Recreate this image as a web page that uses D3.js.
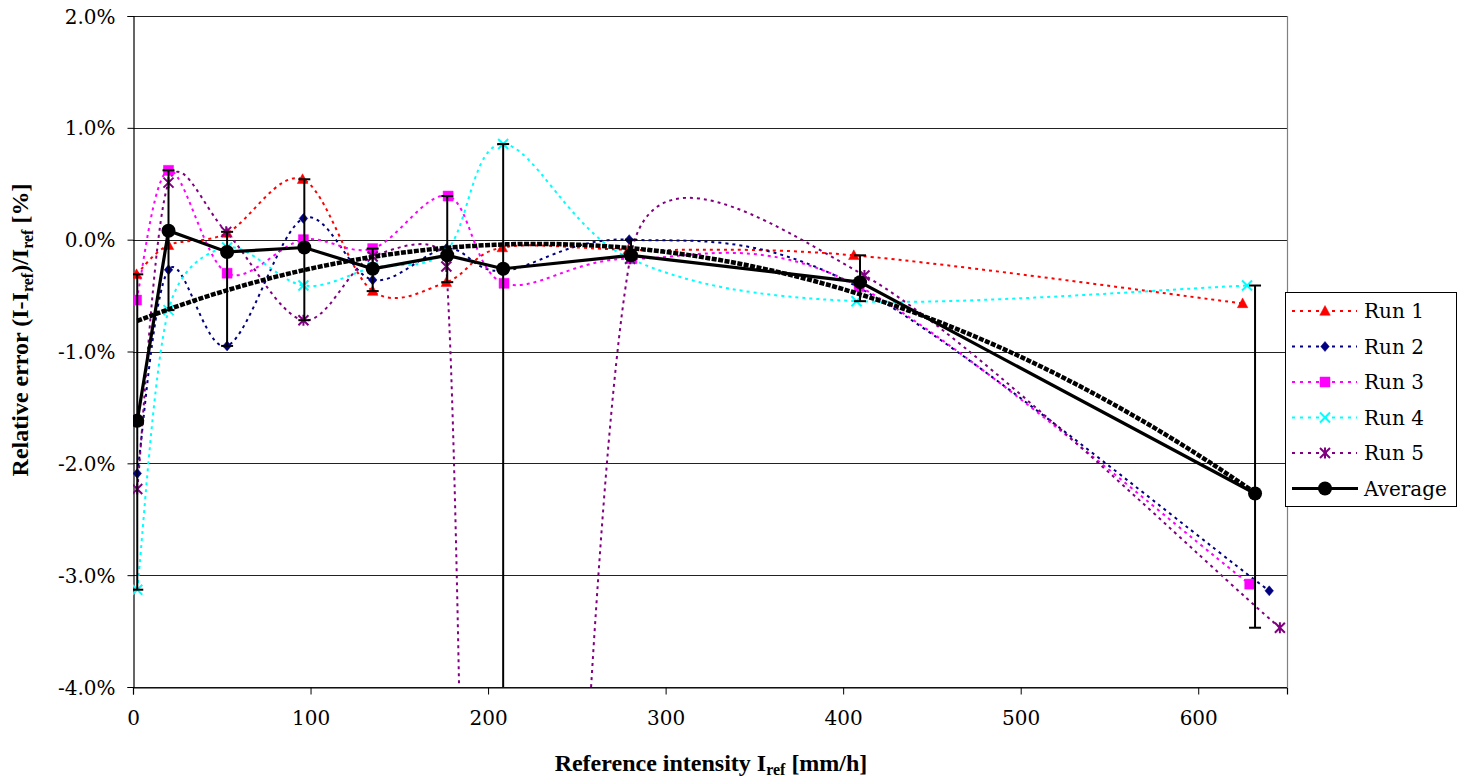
<!DOCTYPE html>
<html>
<head>
<meta charset="utf-8">
<script src="https://cdn.jsdelivr.net/npm/d3@7"></script>
<style>
  html, body { margin: 0; padding: 0; background: #fff; }
  svg { display: block; }
</style>
</head>
<body>
<svg id="chart" width="1470" height="782"></svg>
<script>
// ---------------- data ----------------
const seriesNames = ["Run 1", "Run 2", "Run 3", "Run 4", "Run 5"];
const run1X = [2, 20, 53, 95.5, 135, 176.5, 208, 279, 406, 625];
const run1Y = [-0.31, -0.05, 0.06, 0.54, -0.46, -0.38, -0.07, -0.09, -0.14, -0.57];
const run2X = [2.4, 20, 53, 96, 135, 176.5, 208, 279.5, 409, 640];
const run2Y = [-2.09, -0.27, -0.95, 0.19, -0.36, -0.08, -0.28, 0.0, -0.43, -3.14];
const run3X = [2, 20, 53, 96, 135, 177.5, 209, 281, 409, 629];
const run3Y = [-0.54, 0.62, -0.30, 0.0, -0.08, 0.39, -0.39, -0.17, -0.42, -3.08];
const run4X = [2.4, 20, 53, 96, 135, 176.5, 208.5, 280, 407.5, 627.5];
const run4Y = [-3.13, -0.63, -0.07, -0.41, -0.25, -0.10, 0.855, -0.17, -0.55, -0.41];
const run5X = [2.4, 20, 52.5, 96, 135, 176.5, 208, 280, 412, 646];
const run5Y = [-2.23, 0.51, 0.07, -0.72, -0.15, -0.24, -18.5, -0.17, -0.32, -3.47];
const avgName = "Average";
const avgX = [2.4, 20, 53, 96.5, 135, 177, 208.5, 280.5, 409.5, 632];
const avgY = [-1.62, 0.08, -0.11, -0.07, -0.26, -0.14, -0.26, -0.14, -0.38, -2.27];
const xTicks = [0, 100, 200, 300, 400, 500, 600];
const yTicks = [2, 1, 0, -1, -2, -3, -4];
const yTickLabels = ["2.0%", "1.0%", "0.0%", "-1.0%", "-2.0%", "-3.0%", "-4.0%"];

// ---------------- setup ----------------
const svg = d3.select("#chart");
const L = 133, R = 1287, T = 16, B = 687;
const x = d3.scaleLinear().domain([0, 650]).range([L, R]);
const y = d3.scaleLinear().domain([-4, 2]).range([B, T]);

const runs = [
  { name: seriesNames[0], xs: run1X, ys: run1Y, color: "#FF0000", sym: "tri" },
  { name: seriesNames[1], xs: run2X, ys: run2Y, color: "#000080", sym: "diamond" },
  { name: seriesNames[2], xs: run3X, ys: run3Y, color: "#FF00FF", sym: "square" },
  { name: seriesNames[3], xs: run4X, ys: run4Y, color: "#00FFFF", sym: "x" },
  { name: seriesNames[4], xs: run5X, ys: run5Y, color: "#800080", sym: "star" }
];

// Excel-like smoothed curve (Bezier with capped control arms)
function excelSmooth(context) {
  let pts;
  return {
    areaStart() {}, areaEnd() {},
    lineStart() { pts = []; },
    point(px, py) { pts.push([+px, +py]); },
    lineEnd() {
      const n = pts.length;
      if (!n) return;
      context.moveTo(pts[0][0], pts[0][1]);
      if (n === 1) return;
      const d = (a, b) => Math.hypot(a[0] - b[0], a[1] - b[1]);
      for (let i = 0; i < n - 1; i++) {
        const p0 = pts[Math.max(0, i - 1)], p1 = pts[i], p2 = pts[i + 1], p3 = pts[Math.min(n - 1, i + 2)];
        const d02 = d(p0, p2), d12 = d(p1, p2), d13 = d(p1, p3);
        let f1 = 1 / 6, f2 = 1 / 6;
        if (!(d02 / 6 < d12 / 2 && d13 / 6 < d12 / 2)) {
          if (d02 / 6 >= d12 / 2 && d02 > 0) f1 = d12 / (2 * d02);
          if (d13 / 6 >= d12 / 2 && d13 > 0) f2 = d12 / (2 * d13);
        }
        const c1 = [p1[0] + f1 * (p2[0] - p0[0]), p1[1] + f1 * (p2[1] - p0[1])];
        const c2 = [p2[0] - f2 * (p3[0] - p1[0]), p2[1] - f2 * (p3[1] - p1[1])];
        context.bezierCurveTo(c1[0], c1[1], c2[0], c2[1], p2[0], p2[1]);
      }
    }
  };
}

function symbolPath(type, s) {
  const h = s / 2;
  switch (type) {
    case "tri": return `M0,${-h * 1.1}L${h * 1.05},${h * 0.85}L${-h * 1.05},${h * 0.85}Z`;
    case "diamond": return `M0,${-h}L${h * 0.85},0L0,${h}L${-h * 0.85},0Z`;
    case "square": return `M${-h},${-h}H${h}V${h}H${-h}Z`;
    case "x": return `M${-h},${-h}L${h},${h}M${-h},${h}L${h},${-h}`;
    case "star": return `M${-h},${-h}L${h},${h}M${-h},${h}L${h},${-h}M0,${-h * 1.1}V${h * 1.1}`;
  }
}
function drawSymbol(g, type, color, cx, cy, s) {
  const stroke = (type === "x" || type === "star");
  g.append("path")
    .attr("transform", `translate(${cx},${cy})`)
    .attr("d", symbolPath(type, s))
    .attr("fill", stroke ? "none" : color)
    .attr("stroke", color)
    .attr("stroke-width", stroke ? 2 : 0.5);
}

// clip
svg.append("defs").append("clipPath").attr("id", "plotclip")
  .append("rect").attr("x", L).attr("y", T).attr("width", R - L).attr("height", B - T);

// gridlines
svg.append("g").selectAll("line").data(yTicks).join("line")
  .attr("x1", L).attr("x2", R)
  .attr("y1", d => Math.round(y(d)) + 0.5).attr("y2", d => Math.round(y(d)) + 0.5)
  .attr("stroke", "#222").attr("stroke-width", 1);

// plot border (right side gray)
svg.append("line").attr("x1", R + 0.5).attr("x2", R + 0.5).attr("y1", T).attr("y2", B)
  .attr("stroke", "#808080").attr("stroke-width", 1.2);

// axes
const yAxis = d3.axisLeft(y).tickValues(yTicks).tickSize(6).tickFormat((d, i) => yTickLabels[i]);
const gy = svg.append("g").attr("transform", `translate(${L + 0.5},0)`).call(yAxis);
gy.select(".domain").attr("stroke", "#000").attr("stroke-width", 1.2);
gy.selectAll(".tick line").attr("stroke", "#000");
gy.selectAll(".tick text").attr("x", -18).attr("dy", "0.35em")
  .style("font-family", "'DejaVu Serif', serif").style("font-size", "20px").attr("fill", "#000");

const xAxis = d3.axisBottom(x).tickValues(xTicks).tickSize(7).tickFormat(d3.format("d"));
const gx = svg.append("g").attr("transform", `translate(0,${B + 0.5})`).call(xAxis);
gx.select(".domain").attr("stroke", "#000").attr("stroke-width", 1.2);
gx.selectAll(".tick line").attr("stroke", "#000");
gx.selectAll(".tick text").attr("y", 30).attr("dy", "0.35em")
  .style("font-family", "'DejaVu Serif', serif").style("font-size", "20px").attr("fill", "#000");

// plot content
const plot = svg.append("g").attr("clip-path", "url(#plotclip)");
const smoothLine = d3.line().x(d => x(d[0])).y(d => y(d[1])).curve(excelSmooth);

runs.forEach(r => {
  const pts = r.xs.map((v, i) => [v, r.ys[i]]);
  plot.append("path").attr("d", smoothLine(pts))
    .attr("fill", "none").attr("stroke", r.color).attr("stroke-width", 2)
    .attr("stroke-dasharray", "3,4");
});
runs.forEach(r => {
  const g = plot.append("g");
  r.xs.forEach((v, i) => drawSymbol(g, r.sym, r.color, x(v), y(r.ys[i]), 10));
});

// error bars (min/max over runs)
const errG = plot.append("g");
avgX.forEach((v, i) => {
  const vals = runs.map(r => r.ys[i]);
  const lo = d3.min(vals), hi = d3.max(vals);
  const cx = x(v);
  errG.append("line").attr("x1", cx).attr("x2", cx).attr("y1", y(hi)).attr("y2", y(lo))
    .attr("stroke", "#000").attr("stroke-width", 2);
  [hi, lo].forEach(val => {
    errG.append("line").attr("x1", cx - 6).attr("x2", cx + 6).attr("y1", y(val)).attr("y2", y(val))
      .attr("stroke", "#000").attr("stroke-width", 2);
  });
});

// average line
const straight = d3.line().x(d => x(d[0])).y(d => y(d[1]));
const avgPts = avgX.map((v, i) => [v, avgY[i]]);
plot.append("path").attr("d", straight(avgPts))
  .attr("fill", "none").attr("stroke", "#000").attr("stroke-width", 3.2);

// polynomial (order 2) trendline of the average, least squares
(function () {
  const n = avgX.length;
  let S = [0, 0, 0, 0, 0], Ty = [0, 0, 0];
  for (let i = 0; i < n; i++) {
    const xv = avgX[i], yv = avgY[i];
    for (let k = 0; k <= 4; k++) S[k] += Math.pow(xv, k);
    for (let k = 0; k <= 2; k++) Ty[k] += yv * Math.pow(xv, k);
  }
  const M = [[S[0], S[1], S[2], Ty[0]], [S[1], S[2], S[3], Ty[1]], [S[2], S[3], S[4], Ty[2]]];
  for (let c = 0; c < 3; c++) {
    let p = c;
    for (let r = c + 1; r < 3; r++) if (Math.abs(M[r][c]) > Math.abs(M[p][c])) p = r;
    [M[c], M[p]] = [M[p], M[c]];
    for (let r = 0; r < 3; r++) {
      if (r === c) continue;
      const f = M[r][c] / M[c][c];
      for (let k = c; k < 4; k++) M[r][k] -= f * M[c][k];
    }
  }
  const coef = [M[0][3] / M[0][0], M[1][3] / M[1][1], M[2][3] / M[2][2]];
  const x0 = d3.min(avgX), x1 = d3.max(avgX);
  const samples = d3.range(0, 101).map(k => {
    const xv = x0 + (x1 - x0) * k / 100;
    return [xv, coef[0] + coef[1] * xv + coef[2] * xv * xv];
  });
  plot.append("path").attr("d", straight(samples))
    .attr("fill", "none").attr("stroke", "#000").attr("stroke-width", 4.5)
    .attr("stroke-dasharray", "5,1.5");
})();

plot.append("g").selectAll("circle").data(avgPts).join("circle")
  .attr("cx", d => x(d[0])).attr("cy", d => y(d[1])).attr("r", 7).attr("fill", "#000");

// legend
const lg = svg.append("g");
lg.append("rect").attr("x", 1285.5).attr("y", 292.5).attr("width", 171).attr("height", 214)
  .attr("fill", "#fff").attr("stroke", "#000").attr("stroke-width", 1);
const legY = [311, 346.5, 382, 417.5, 453, 488.5];
runs.forEach((r, i) => {
  lg.append("line").attr("x1", 1292).attr("x2", 1357).attr("y1", legY[i]).attr("y2", legY[i])
    .attr("stroke", r.color).attr("stroke-width", 2).attr("stroke-dasharray", "3,5");
  drawSymbol(lg, r.sym, r.color, 1325, legY[i], 10);
  lg.append("text").attr("x", 1364).attr("y", legY[i]).attr("dy", "0.36em")
    .style("font-family", "'DejaVu Serif', serif").style("font-size", "20px").text(r.name);
});
lg.append("line").attr("x1", 1292).attr("x2", 1358).attr("y1", legY[5]).attr("y2", legY[5])
  .attr("stroke", "#000").attr("stroke-width", 3.2);
lg.append("circle").attr("cx", 1325).attr("cy", legY[5]).attr("r", 7).attr("fill", "#000");
lg.append("text").attr("x", 1364).attr("y", legY[5]).attr("dy", "0.36em")
  .style("font-family", "'DejaVu Serif', serif").style("font-size", "20px").text(avgName);

// axis titles
const xt = svg.append("text").attr("x", 711).attr("y", 771)
  .attr("text-anchor", "middle")
  .style("font-family", "'Liberation Serif', 'Times New Roman', serif")
  .style("font-size", "24px").style("font-weight", "bold");
xt.append("tspan").text("Reference intensity I");
xt.append("tspan").attr("dy", 4).style("font-size", "16px").text("ref");
xt.append("tspan").attr("dy", -4).text(" [mm/h]");

const yt = svg.append("text").attr("transform", "translate(28,330) rotate(-90)")
  .attr("text-anchor", "middle")
  .style("font-family", "'Liberation Serif', 'Times New Roman', serif")
  .style("font-size", "24px").style("font-weight", "bold");
yt.append("tspan").text("Relative error (I-I");
yt.append("tspan").attr("dy", 5).style("font-size", "16px").text("ref");
yt.append("tspan").attr("dy", -5).text(")/I");
yt.append("tspan").attr("dy", 5).style("font-size", "16px").text("ref");
yt.append("tspan").attr("dy", -5).text(" [%]");
</script>
</body>
</html>
